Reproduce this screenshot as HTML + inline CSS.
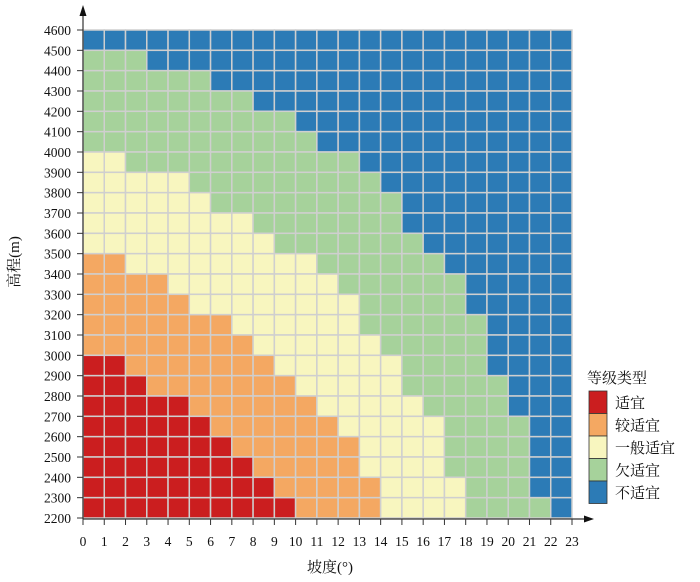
<!DOCTYPE html>
<html><head><meta charset="utf-8"><style>
body{margin:0;background:#fff;}
svg{display:block;font-family:"Liberation Serif","Noto Serif CJK SC",serif;}
</style></head><body>
<svg id="chart" width="700" height="582" viewBox="0 0 700 582"></svg>
<script>
const xTicks=[0,1,2,3,4,5,6,7,8,9,10,11,12,13,14,15,16,17,18,19,20,21,22,23];
const yTicks=[2200,2300,2400,2500,2600,2700,2800,2900,3000,3100,3200,3300,3400,3500,3600,3700,3800,3900,4000,4100,4200,4300,4400,4500,4600];
const rowElev=[4500,4400,4300,4200,4100,4000,3900,3800,3700,3600,3500,3400,3300,3200,3100,3000,2900,2800,2700,2600,2500,2400,2300,2200];
const redCount=[0,0,0,0,0,0,0,0,0,0,0,0,0,0,0,0,2,3,5,6,7,8,9,10];
const orangeCount=[0,0,0,0,0,0,0,0,0,0,0,2,4,5,7,8,7,7,6,6,6,5,5,4];
const yellowCount=[0,0,0,0,0,0,2,5,6,8,9,9,8,8,6,6,6,5,5,5,4,4,4,4];
const greenCount=[0,3,6,8,10,11,11,9,9,7,7,6,6,5,6,5,4,5,4,4,4,4,3,4];
const classNames=["适宜","较适宜","一般适宜","欠适宜","不适宜"];
const classColors=["#cb1e1f","#f4a862","#f8f6bf","#a6d29b","#2c7bb6"];
const NS="http://www.w3.org/2000/svg";
const svg=document.getElementById('chart');
const X0=83,X1=572,Y0=518,Y1=30;
const xs=v=>X0+(v-0)/(23-0)*(X1-X0);
const ys=v=>Y0-(v-2200)/(4600-2200)*(Y0-Y1);
function mk(t,a){const e=document.createElementNS(NS,t);for(const k in a)e.setAttribute(k,a[k]);svg.appendChild(e);return e;}
// cells
rowElev.forEach((el,i)=>{
  const counts=[redCount[i],orangeCount[i],yellowCount[i],greenCount[i]];
  let c=0;
  for(let col=0;col<23;col++){
    let cls=4,acc=0;
    for(let k=0;k<4;k++){acc+=counts[k];if(col<acc){cls=k;break;}}
    const r=mk('rect',{x:xs(col),y:ys(el+100),width:xs(col+1)-xs(col),height:ys(el)-ys(el+100),fill:classColors[cls],stroke:'#cfcfcf','stroke-width':1.5});
    
    
  }
});
// axes
const ax=mk('line',{x1:X0,y1:Y0+1,x2:X0,y2:10,stroke:'#333','stroke-width':1.2});

const ay=mk('line',{x1:X0,y1:Y0+1,x2:588,y2:Y0+1,stroke:'#333','stroke-width':1.2});

const a1=mk('polygon',{points:`${X0-3.5},16 ${X0},5 ${X0+3.5},16`,fill:'#111'});

const a2=mk('polygon',{points:`584,${Y0-2.5} 594,${Y0+1} 584,${Y0+4.5}`,fill:'#111'});

yTicks.forEach(v=>{
  const y=ys(v);
  const t=mk('line',{x1:X0-6,y1:y,x2:X0,y2:y,stroke:'#333','stroke-width':1});
  
  const l=mk('text',{x:X0-12,y:y+5,'text-anchor':'end','font-size':13.5,fill:'#111'});
  l.textContent=v;
  
});
xTicks.forEach(v=>{
  const x=xs(v);
  const t=mk('line',{x1:x,y1:Y0+1,x2:x,y2:Y0+7,stroke:'#333','stroke-width':1});
  
  const l=mk('text',{x:x,y:546,'text-anchor':'middle','font-size':13.5,fill:'#111'});
  l.textContent=v;
  
});
const xt=mk('text',{x:330,y:572,'text-anchor':'middle','font-size':15,fill:'#111'});
xt.textContent='坡度(°)';
const yt=mk('text',{x:0,y:0,'text-anchor':'middle','font-size':15,fill:'#111',transform:'translate(19,262) rotate(-90)'});
yt.textContent='高程(m)';
// legend
const lt=mk('text',{x:587,y:383,'font-size':15,fill:'#111'});
lt.textContent='等级类型';
classNames.forEach((n,i)=>{
  const y=391+i*22.5;
  const r=mk('rect',{x:589,y:y,width:18,height:22.5,fill:classColors[i],stroke:'#333','stroke-width':0.8});
  
  const t=mk('text',{x:615,y:y+17,'font-size':15,fill:'#111'});
  t.textContent=n;
});
</script>
</body></html>
